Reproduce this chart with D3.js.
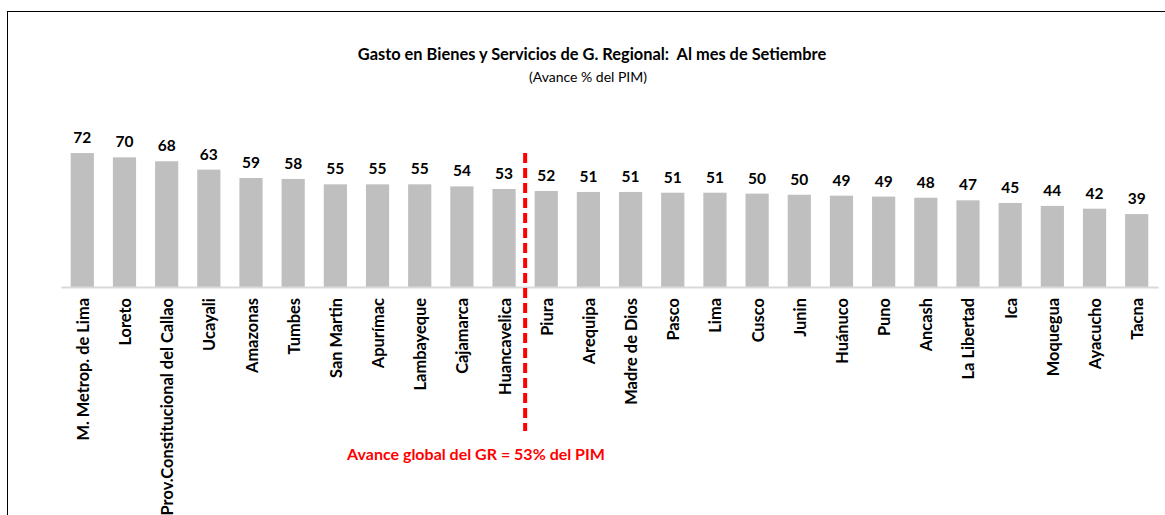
<!DOCTYPE html>
<html>
<head>
<meta charset="utf-8">
<script src="https://cdn.jsdelivr.net/npm/d3@7"></script>
<style>
  html, body { margin: 0; padding: 0; background: #fff; }
  svg { display: block; }
</style>
</head>
<body>
<svg id="chart" width="1165" height="515"></svg>
<script>
const categories = ["M. Metrop. de Lima", "Loreto", "Prov.Constitucional del Callao", "Ucayali", "Amazonas", "Tumbes", "San Martin", "Apurímac", "Lambayeque", "Cajamarca", "Huancavelica", "Piura", "Arequipa", "Madre de Dios", "Pasco", "Lima", "Cusco", "Junin", "Huánuco", "Puno", "Ancash", "La Libertad", "Ica", "Moquegua", "Ayacucho", "Tacna"];
const values = [72.0, 69.7, 67.6, 63.1, 58.6, 58.1, 55.2, 55.2, 55.2, 54.1, 52.7, 51.6, 51.1, 51.1, 50.7, 50.7, 50.2, 49.6, 49.1, 48.6, 48.0, 46.6, 45.2, 43.6, 42.1, 39.2];
const globalAvance = 53;
const splitAfter = "Huancavelica";
const titleText = "Gasto en Bienes y Servicios de G. Regional:  Al mes de Setiembre";
const subtitleText = "(Avance % del PIM)";
const noteText = "Avance global del GR = " + globalAvance + "% del PIM";

const FONT = "Lato, 'Open Sans', sans-serif";
const svg = d3.select("#chart");

// frame
svg.append("rect").attr("x", 7.5).attr("y", 11.5).attr("width", 1200).attr("height", 600)
  .attr("fill", "none").attr("stroke", "#000").attr("stroke-width", 1);

const x = d3.scaleBand().domain(categories).range([61, 1158]).paddingInner(0.45).paddingOuter(0.23);
const y = d3.scaleLinear().domain([0, 100]).range([287, 101]);
const data = categories.map((c, i) => ({ c, v: values[i] }));

// title
svg.append("text").attr("x", 592).attr("y", 60).attr("text-anchor", "middle")
  .attr("font-family", FONT).attr("font-weight", "bold").attr("font-size", 16.4)
  .attr("fill", "#000").style("white-space", "pre").text(titleText);
svg.append("text").attr("x", 588).attr("y", 82).attr("text-anchor", "middle")
  .attr("font-family", FONT).attr("font-size", 14).attr("fill", "#000").text(subtitleText);

// bars
svg.append("g").selectAll("rect").data(data).join("rect")
  .attr("x", d => x(d.c)).attr("width", x.bandwidth())
  .attr("y", d => y(d.v)).attr("height", d => y(0) - y(d.v))
  .attr("fill", "#bfbfbf");

// baseline axis
const axis = svg.append("g").attr("transform", `translate(0,${y(0)})`)
  .call(d3.axisBottom(x).tickSize(0).tickPadding(0).tickFormat(""));
axis.select(".domain").attr("stroke", "#d9d9d9").attr("stroke-width", 2);

// category labels
svg.append("g").selectAll("text").data(data).join("text")
  .attr("transform", d => `translate(${x(d.c) + x.bandwidth() / 2 + 6.5},298) rotate(-90)`)
  .attr("text-anchor", "end")
  .attr("font-family", FONT).attr("font-weight", "bold").attr("font-size", 16.4)
  .attr("fill", "#000").text(d => d.c);

// value labels
svg.append("g").selectAll("text").data(data).join("text")
  .attr("x", d => x(d.c) + x.bandwidth() / 2)
  .attr("y", d => y(d.v) - 10)
  .attr("text-anchor", "middle")
  .attr("font-family", FONT).attr("font-weight", "bold").attr("font-size", 15.5)
  .attr("fill", "#000").text(d => d3.format(".0f")(d.v));

// red dashed divider
const iSplit = categories.indexOf(splitAfter);
const xLine = (x(categories[iSplit]) + x.bandwidth() + x(categories[iSplit + 1])) / 2;
svg.append("line").attr("x1", xLine).attr("x2", xLine).attr("y1", 153).attr("y2", 431)
  .attr("stroke", "#ff0000").attr("stroke-width", 4).attr("stroke-dasharray", "10,5");

svg.append("text").attr("x", 476).attr("y", 460).attr("text-anchor", "middle")
  .attr("font-family", FONT).attr("font-weight", "bold").attr("font-size", 16)
  .attr("fill", "#ff0000").text(noteText);
</script>
</body>
</html>
